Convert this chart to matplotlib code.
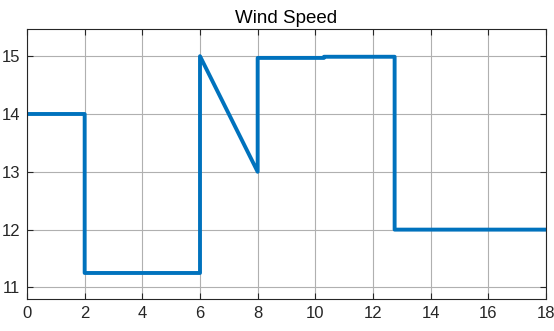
import numpy as np
import matplotlib
matplotlib.use("Agg")
import matplotlib.pyplot as plt

# Señal de velocidad del viento (tiempo, valor)
t = [0, 2, 2, 6, 6, 8, 8, 10.3, 10.3, 12.75, 12.75, 18]
v = [14, 14, 11.25, 11.25, 15, 13, 14.97, 14.97, 14.99, 14.99, 12, 12]

xticks = np.arange(0, 19, 2)
yticks = [11, 12, 13, 14, 15]

plt.rcParams['font.family'] = ['Liberation Sans', 'DejaVu Sans']

fig = plt.figure(figsize=(5.54, 3.31), dpi=100)
ax = fig.add_axes([27/554, 32/331, 519/554, 270/331])

ax.plot(t, v, color='#0072BD', linewidth=2.8)

ax.set_xlim(0, 18)
ax.set_ylim(10.8, 15.47)
ax.set_xticks(xticks)
ax.set_yticks(yticks)
ax.grid(True, color='#b0b0b0', linewidth=0.8)
ax.tick_params(direction='in', top=True, right=True, labelsize=12, colors='#262626', length=4, pad=5)
for s in ax.spines.values():
    s.set_color('#262626')
    s.set_linewidth(0.8)
ax.set_title("Wind Speed", fontsize=13.5, pad=4)

fig.savefig("out.png", dpi=100)
